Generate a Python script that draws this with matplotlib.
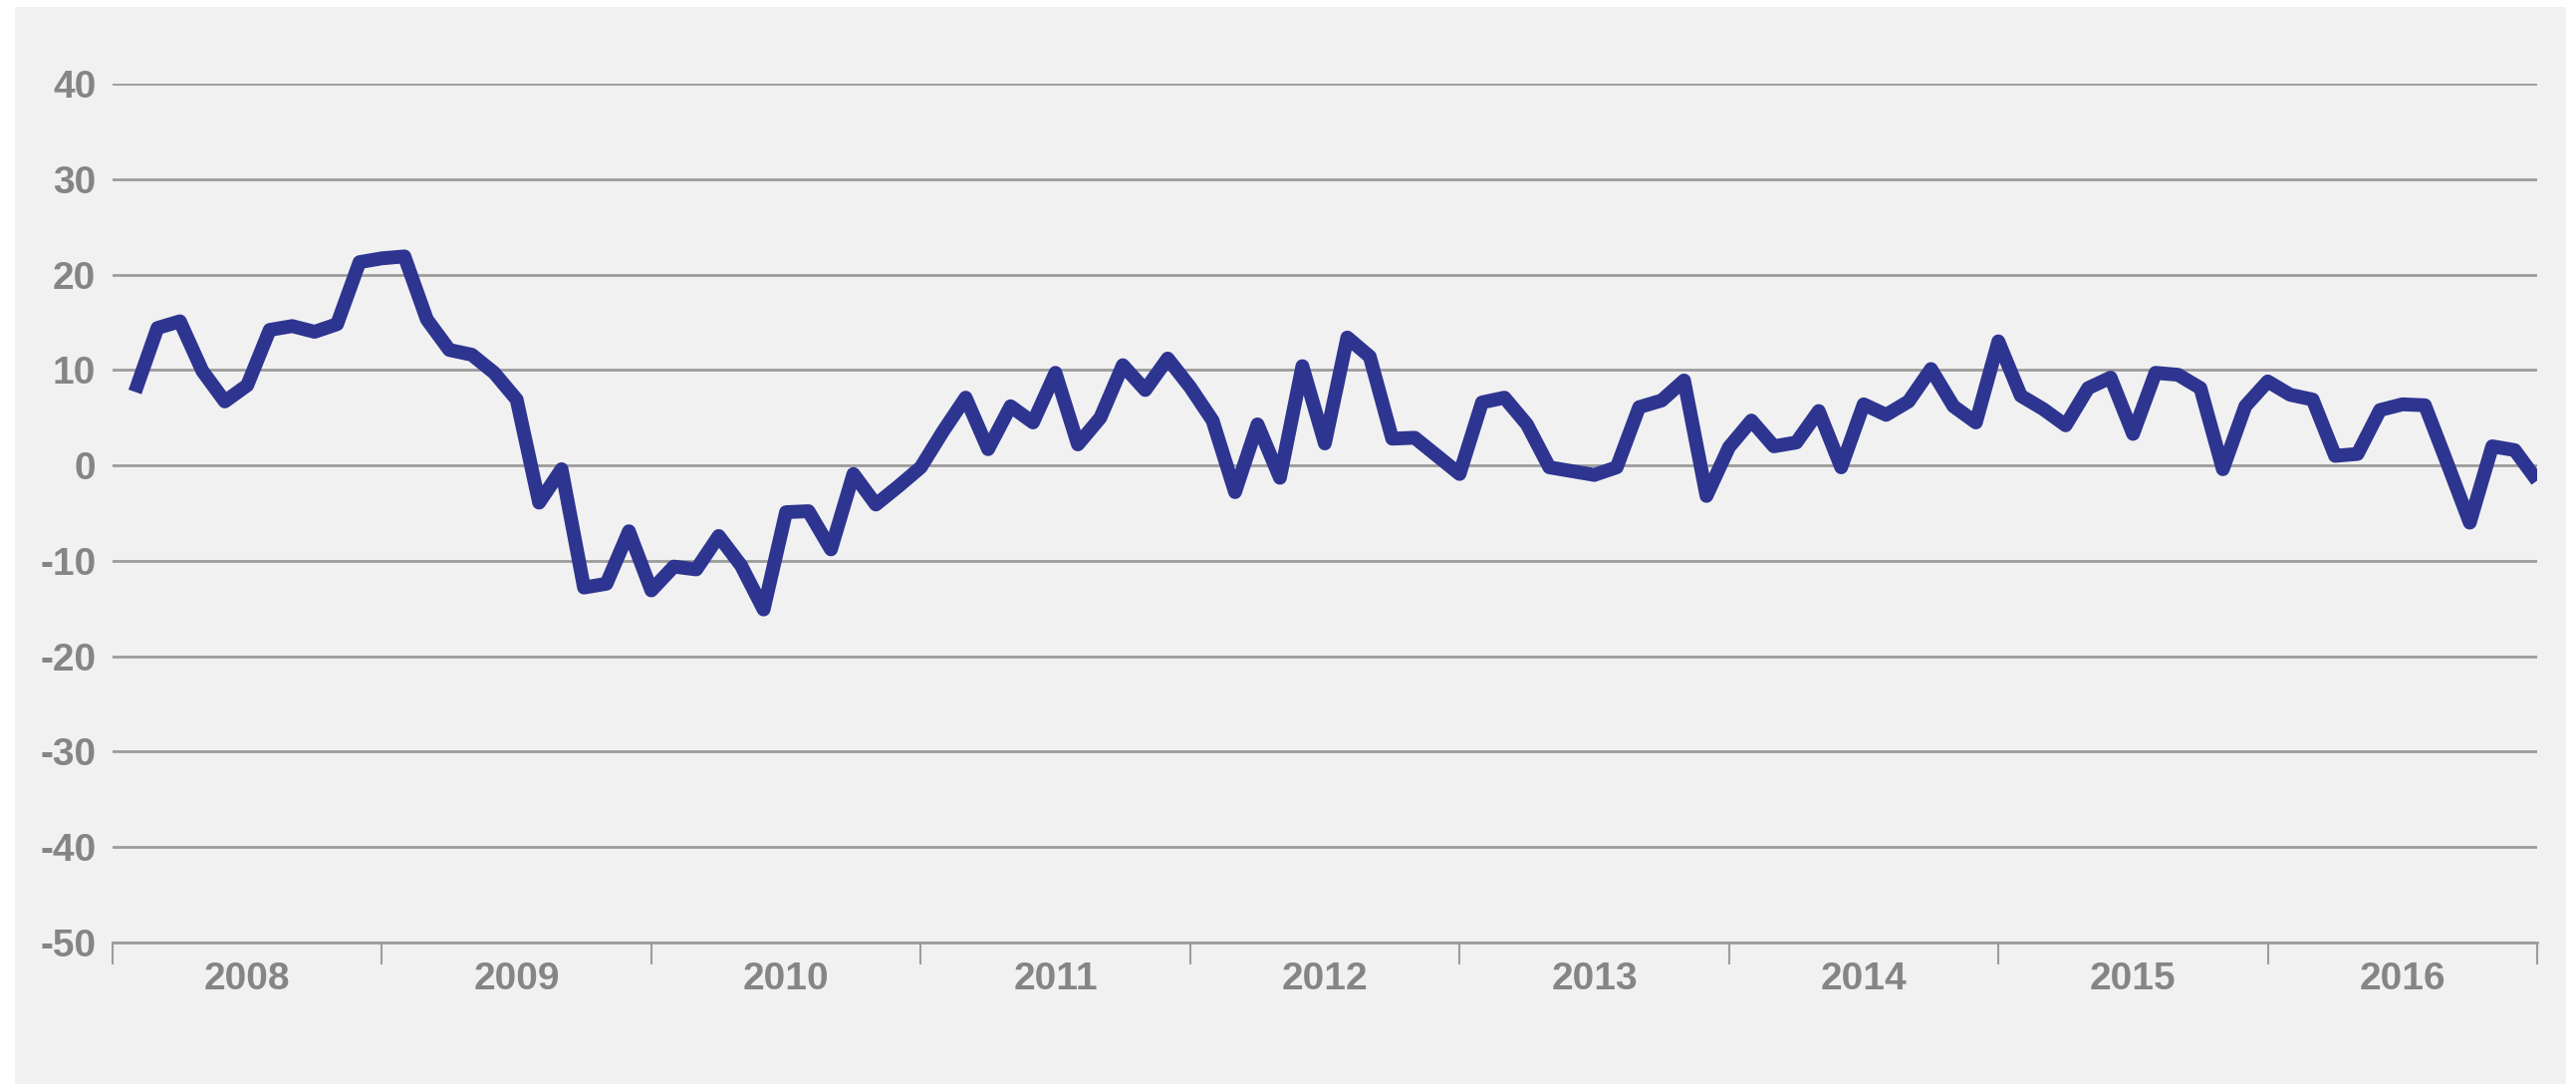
import matplotlib
matplotlib.use('Agg')

import matplotlib.pyplot as plt
from matplotlib.patches import Rectangle
import numpy as np

# monthly values, Jan 2008 .. Dec 2016
values = [
    7.7, 14.4, 15.1, 9.9, 6.7, 8.4, 14.2, 14.6, 14.0, 14.8, 21.3, 21.7,      # 2008
    21.9, 15.3, 12.1, 11.6, 9.7, 6.9, -3.9, -0.4, -12.8, -12.4, -6.9, -13.1,  # 2009
    -10.6, -10.9, -7.4, -10.5, -15.1, -4.9, -4.8, -8.8, -0.9, -4.1, -2.2, -0.2,  # 2010
    3.6, 7.1, 1.7, 6.2, 4.5, 9.7, 2.2, 5.0, 10.5, 7.9, 11.2, 8.2,            # 2011
    4.7, -2.8, 4.3, -1.3, 10.4, 2.3, 13.4, 11.4, 2.8, 2.9, 1.0, -0.9,        # 2012
    6.6, 7.1, 4.3, -0.2, -0.6, -1.0, -0.2, 6.1, 6.8, 8.9, -3.2, 1.9,         # 2013
    4.7, 2.0, 2.4, 5.7, -0.2, 6.4, 5.3, 6.7, 10.1, 6.2, 4.5, 13.0,           # 2014
    7.3, 5.9, 4.2, 8.1, 9.2, 3.3, 9.7, 9.5, 8.1, -0.4, 6.2, 8.8,             # 2015
    7.4, 6.9, 1.0, 1.2, 5.8, 6.4, 6.3, 0.2, -6.0, 2.0, 1.6, -1.6,            # 2016
]
years = [2008, 2009, 2010, 2011, 2012, 2013, 2014, 2015, 2016]
yTicks = [40, 30, 20, 10, 0, -10, -20, -30, -40, -50]

W, H = 2586, 1088
fig = plt.figure(figsize=(W / 100, H / 100), dpi=100, facecolor='white')

# light gray panel behind everything
panel = Rectangle((15 / W, 0), (2576 - 15) / W, (H - 7) / H,
                  transform=fig.transFigure, facecolor='#f1f1f1',
                  edgecolor='none', zorder=-10)
fig.add_artist(panel)

left, right = 113 / W, 2547 / W
bottom, top = (H - 946) / H, (H - 84) / H
ax = fig.add_axes([left, bottom, right - left, top - bottom])
ax.set_facecolor('none')
ax.set_zorder(1)

x = years[0] + np.arange(1, len(values) + 1) / 12.0
ax.plot(x, values, color='#2e3590', linewidth=10, solid_joinstyle='round',
        solid_capstyle='butt', zorder=3)

ax.set_xlim(years[0], years[-1] + 1)
ax.set_ylim(-50, 40)

textColor = '#858585'
gridColor = '#9c9c9c'
font = dict(family=['Liberation Sans', 'DejaVu Sans'], weight='bold', size=28)

ax.set_yticks(yTicks)
ax.set_yticklabels([str(v) for v in yTicks], color=textColor, **font)
ax.tick_params(axis='y', length=0, pad=12)
ax.yaxis.grid(True, color=gridColor, linewidth=2)
ax.set_axisbelow(True)

# ticks at year boundaries, labels in the middle of each year
ax.set_xticks(list(years) + [years[-1] + 1])
ax.set_xticklabels([])
ax.set_xticks([y + 0.5 for y in years], minor=True)
ax.set_xticklabels([str(y) for y in years], minor=True, color=textColor, **font)
ax.tick_params(axis='x', which='major', length=16, width=1.5, color=gridColor, direction='out')
ax.tick_params(axis='x', which='minor', length=0, pad=14)

for s in ['top', 'right', 'left']:
    ax.spines[s].set_visible(False)
ax.spines['bottom'].set_color(gridColor)
ax.spines['bottom'].set_linewidth(2)

plt.savefig('out.png', dpi=100, facecolor='white')
